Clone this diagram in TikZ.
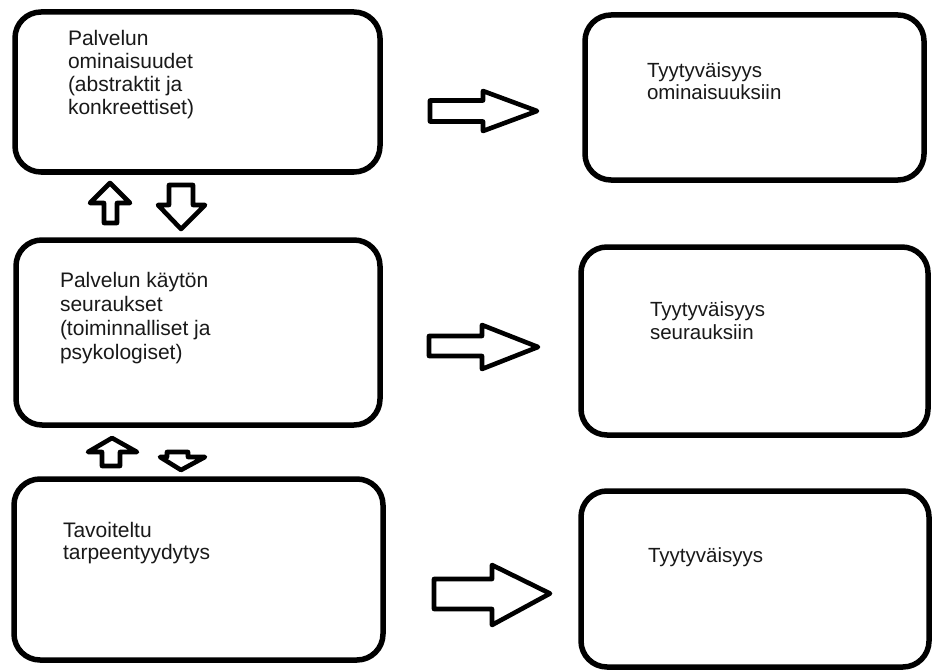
\documentclass[tikz,border=0pt]{standalone}
\usepackage{fontspec}
\setmainfont{Liberation Sans}
\begin{document}
\begin{tikzpicture}[x=1pt,y=-1pt,
  box/.style={draw=black,line width=5.5pt,rounded corners=26pt,inner sep=0pt,outer sep=0pt,fill=white},
  lbl/.style={anchor=north west,inner sep=0pt,outer sep=0pt,align=left,text=black!90},
  blockarr/.style={draw=black,line width=4.6pt,line join=round,fill=white}]
\useasboundingbox[fill=white] (0,0) rectangle (933,671);
% boxes
\node[box,minimum width=365pt,minimum height=160pt] (b1) at (197.5,92) {};
\node[box,minimum width=364pt,minimum height=185pt] (b2) at (198,332.5) {};
\node[box,minimum width=369pt,minimum height=181pt] (b3) at (198.5,569.5) {};
\node[box,minimum width=339pt,minimum height=165pt] (r1) at (754.5,97.5) {};
\node[box,minimum width=347pt,minimum height=188pt] (r2) at (754.5,341) {};
\node[box,minimum width=348pt,minimum height=176pt] (r3) at (755,579) {};
% texts
\node[lbl,font={\fontsize{21}{23}\selectfont}] (t1) at (68,30.7) {Palvelun\\ominaisuudet\\(abstraktit ja\\konkreettiset)};
\node[lbl,font={\fontsize{21}{24}\selectfont}] (t2) at (60,272.7) {Palvelun käytön\\seuraukset\\(toiminnalliset ja\\psykologiset)};
\node[lbl,font={\fontsize{21}{22}\selectfont}] (t3) at (63,522.7) {Tavoiteltu\\tarpeentyydytys};
\node[lbl,font={\fontsize{20.5}{22}\selectfont}] (u1) at (647,63) {Tyytyväisyys\\ominaisuuksiin};
\node[lbl,font={\fontsize{20.5}{23}\selectfont}] (u2) at (650,302) {Tyytyväisyys\\seurauksiin};
\node[lbl,font={\fontsize{20.5}{22}\selectfont}] (u3) at (648,548) {Tyytyväisyys};
% right block arrows
\draw[blockarr] (430,100.5) -- (483,100.5) -- (483,91) -- (537,111) -- (483,131) -- (483,121.5) -- (430,121.5) -- cycle;
\draw[blockarr] (429,336) -- (482,336) -- (482,325) -- (538,347) -- (482,369) -- (482,356) -- (429,356) -- cycle;
\draw[blockarr] (434,579) -- (492,579) -- (492,565) -- (550,593.5) -- (492,625) -- (492,609) -- (434,609) -- cycle;
% up/down arrows between left boxes
\draw[blockarr] (104,223) -- (104,203) -- (90,203) -- (110,183) -- (130,203) -- (117,203) -- (117,223) -- cycle;
\draw[blockarr] (169,185) -- (193,185) -- (193,205) -- (205,205) -- (181,229) -- (158,205) -- (169,205) -- cycle;
\draw[blockarr] (102,466) -- (102,452) -- (88,452) -- (112,438) -- (137,452) -- (120,452) -- (120,466) -- cycle;
\draw[blockarr] (167,452) -- (188,452) -- (188,457) -- (205,457) -- (181,470) -- (160,457) -- (167,457) -- cycle;
\end{tikzpicture}
\end{document}
